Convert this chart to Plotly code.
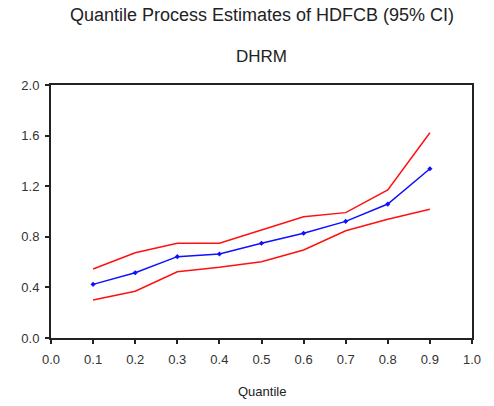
import plotly.graph_objects as go

quantiles = [0.1, 0.2, 0.3, 0.4, 0.5, 0.6, 0.7, 0.8, 0.9]
estimate = [0.424, 0.516, 0.643, 0.664, 0.749, 0.828, 0.922, 1.059, 1.338]
upper = [0.545, 0.674, 0.749, 0.749, 0.854, 0.959, 0.991, 1.17, 1.623]
lower = [0.30, 0.37, 0.524, 0.559, 0.603, 0.696, 0.848, 0.938, 1.017]
x_ticks = [0.0, 0.1, 0.2, 0.3, 0.4, 0.5, 0.6, 0.7, 0.8, 0.9, 1.0]
y_ticks = [0.0, 0.4, 0.8, 1.2, 1.6, 2.0]

title1 = "Quantile Process Estimates of HDFCB (95% CI)"
title2 = "DHRM"
x_title = "Quantile"

FONT = "Liberation Sans, Arial, sans-serif"
W, H = 494, 406
T, B = 85, 68
plot_h = H - T - B


def ypaper(ypx):
    return (H - B - ypx) / plot_h


fig = go.Figure()
fig.add_trace(go.Scatter(x=quantiles, y=upper, mode="lines",
                         line=dict(color="#ff1010", width=1.5), showlegend=False))
fig.add_trace(go.Scatter(x=quantiles, y=lower, mode="lines",
                         line=dict(color="#ff1010", width=1.5), showlegend=False))
fig.add_trace(go.Scatter(x=quantiles, y=estimate, mode="lines+markers",
                         line=dict(color="#1010ff", width=1.5),
                         marker=dict(symbol="diamond", size=4, color="#1010ff"),
                         showlegend=False))

fig.update_layout(
    width=W, height=H,
    margin=dict(l=51, r=22, t=T, b=B),
    paper_bgcolor="white", plot_bgcolor="white",
    font=dict(family=FONT, color="#222222"),
    xaxis=dict(range=[0, 1], tickvals=x_ticks, tickformat=".1f",
               showgrid=False, zeroline=False, showline=True, linecolor="#222222",
               linewidth=2, mirror=True, ticks="outside", ticklen=4, tickwidth=1.5,
               tickcolor="#222222", ticklabelstandoff=4,
               tickfont=dict(size=13, color="#333333")),
    yaxis=dict(range=[0, 2], tickvals=y_ticks, tickformat=".1f",
               showgrid=False, zeroline=False, showline=True, linecolor="#222222",
               linewidth=2, mirror=True, ticks="outside", ticklen=4, tickwidth=1.5,
               tickcolor="#222222", ticklabelstandoff=3,
               tickfont=dict(size=13, color="#333333")),
    annotations=[
        dict(text=title1, x=0.5, y=ypaper(15), xref="paper", yref="paper", showarrow=False,
             font=dict(size=18, color="#222222"), xanchor="center", yanchor="middle"),
        dict(text=title2, x=0.5, y=ypaper(56), xref="paper", yref="paper", showarrow=False,
             font=dict(size=17, color="#222222"), xanchor="center", yanchor="middle"),
        dict(text=x_title, x=0.5, y=ypaper(391), xref="paper", yref="paper", showarrow=False,
             font=dict(size=13, color="#222222"), xanchor="center", yanchor="middle"),
    ],
)

fig.write_html("out.html")
